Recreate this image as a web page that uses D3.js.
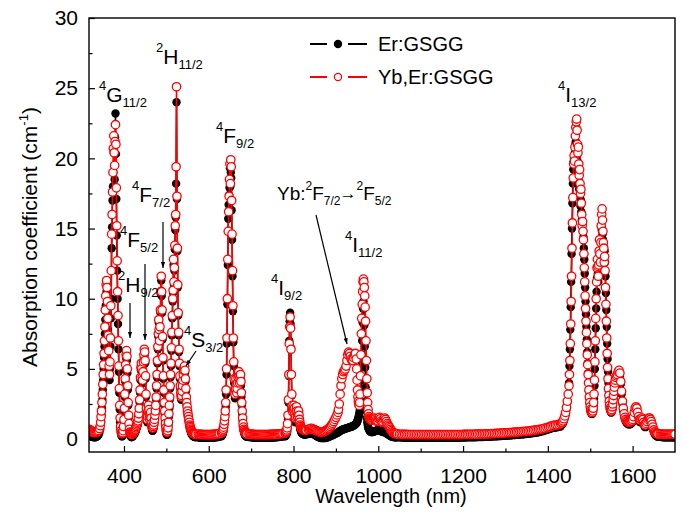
<!DOCTYPE html>
<html><head><meta charset="utf-8">
<script src="https://cdn.jsdelivr.net/npm/d3@7"></script>
<style>
body{margin:0;background:#fff}
svg{display:block}
text{font-family:"Liberation Sans",Arial,Helvetica,sans-serif;fill:#000}
</style>
</head><body>
<svg id="chart" width="683" height="515"></svg>
<script>
// ---------------- DATA (absorption coefficient, cm^-1) ----------------
// wavelength grid segments: start (nm) and step (nm)
const gridStart = [318, 345, 575, 630, 695, 780, 835, 906, 949, 987, 1050, 1432, 1451, 1562, 1665];
const gridStep  = [2,   1,   2.5, 1,   2.5, 1,   2.5, 2,   1,   2,   4,    2,    1,    2,    2.5];

// Er:GSGG
const er1 = [0.3,0.25,0.2,0.18,0.15,0.14,0.13,0.13,0.15,0.18,0.22,0.3,0.45,0.7];
const er2 = [1.0,1.3,1.7,2.2,2.8,3.5,4.2,5.0,5.8,6.6,
 7.5,8.5,9.5,10.2,10.5,10.0,9.0,7.8,6.6,5.6,
 4.7,4.2,5.0,6.6,8.6,10.0,13.6,15.1,17.0,18.0,
 19.0,20.4,19.5,18.5,21.5,23.2,20.3,17.1,14.5,12.0,
 10.0,8.2,6.4,4.8,3.3,2.1,1.2,0.7,0.4,0.25,
 0.2,0.2,0.25,0.4,0.7,1.2,2.0,3.0,4.1,5.0,
 5.8,6.1,5.6,4.7,3.5,2.4,1.5,0.9,0.5,0.3,
 0.25,0.2,0.15,0.15,0.15,0.2,0.2,0.25,0.3,0.35,
 0.4,0.45,0.5,0.6,0.7,0.8,0.9,1.0,1.1,1.3,
 1.6,2.0,2.6,3.3,4.2,4.9,5.2,4.8,4.2,4.0,
 4.6,5.3,5.8,6.2,6.0,5.4,4.3,3.0,2.0,1.4,
 1.2,1.4,1.8,2.2,1.9,1.5,1.2,1.4,1.7,1.3,
 0.9,0.7,0.6,0.6,0.7,0.8,1.0,1.2,1.5,1.8,
 2.2,2.8,3.6,4.4,5.4,6.4,7.3,8.3,7.6,6.8,
 7.8,9.0,10.3,11.3,10.2,9.0,7.1,5.6,4.3,3.3,
 2.4,1.8,1.3,0.9,0.6,0.4,0.3,0.3,0.4,0.6,
 1.0,1.6,2.2,2.8,3.6,4.4,5.2,6.3,7.4,8.6,
 9.8,10.4,12.4,11.0,12.0,13.5,14.9,15.8,18.2,24.0,
 17.1,13.4,10.8,8.8,7.4,6.2,5.2,4.3,3.6,3.1,
 2.8,2.9,3.2,3.6,4.0,4.4,4.7,4.9,5.0,4.7,
 4.1,3.4,2.8,2.4,2.1,1.8,1.6,1.4,1.2,1.0,
 0.8,0.7,0.6,0.5,0.4,0.35,0.3,0.25,0.22,0.2,
 0.18,0.16,0.15,0.15,0.15,0.15];
const er3 = [0.12,0.11,0.1,0.1,0.1,0.1,0.1,0.1,0.1,0.1,0.1,0.1,0.1,0.1,0.1,0.11,0.12,0.13,0.14,0.15,0.17];
const er4 = [0.2,0.24,0.3,0.38,0.48,0.62,0.8,1.05,1.35,1.75,
 2.3,3.2,4.6,6.8,9.6,12.4,15.7,16.7,17.4,17.9,
 19.3,18.0,19.0,18.6,16.3,14.2,11.6,9.1,6.9,5.2,
 4.0,3.2,2.9,3.3,4.0,3.6,3.0,3.3,3.7,4.1,
 4.3,4.5,4.2,3.7,4.0,4.3,3.8,3.0,2.4,1.8,
 1.3,0.9,0.65,0.5,0.4,0.32,0.26,0.22,0.2,0.18,
 0.16];
const er5 = [0.15,0.14,0.13,0.12,0.11,0.1,0.1,0.1,0.1,0.1,0.1,0.1,0.1,0.1,0.1,0.1,0.1,0.1,0.1,0.1,0.1,0.1,0.11,0.11,0.12,0.12,0.13,0.14,0.15,0.16,0.17,0.18,0.19];
const er6 = [0.2,0.22,0.25,0.3,0.38,0.5,0.8,1.4,2.6,4.5,
 7.0,8.4,9.0,8.2,6.5,4.6,3.1,2.2,1.8,1.6,
 1.8,2.1,1.9,1.5,1.2,1.3,1.7,2.0,1.7,1.3,
 1.3,1.5,1.7,1.4,1.1,0.9,0.7,0.6,0.5,0.45,
 0.42,0.4,0.38,0.36,0.35,0.34,0.33,0.33,0.33,0.34,
 0.35];
const er7 = [0.36,0.38,0.4,0.4,0.38,0.34,0.3,0.25,0.2,0.16,0.12,0.1,0.08,0.07,0.07,0.07,0.08,0.1,0.12,0.15,0.18,0.21,0.25,0.28,0.32,0.36,0.4,0.43,0.46];
const er8 = [0.5,0.54,0.58,0.62,0.65,0.68,0.7,0.72,0.74,0.76,0.78,0.8,0.82,0.84,0.86,0.88,0.9,0.93,0.96,1.0,1.05,1.12];
const er9 = [1.15,1.2,1.3,1.4,1.5,1.65,1.8,2.0,2.3,2.7,
 3.3,4.2,5.5,7.0,8.3,9.3,9.8,9.3,8.1,6.6,
 5.1,3.7,2.7,2.0,1.5,1.2,1.0,0.85,0.75,0.68,
 0.62,0.58,0.55,0.52,0.5,0.5,0.5];
const er10 = [0.5,0.52,0.55,0.58,0.6,0.62,0.64,0.66,0.64,0.6,0.56,0.52,0.5,0.52,0.5,0.46,0.42,0.38,0.34,0.3,0.26,0.22,0.19,0.17,0.15,0.14,0.13,0.12,0.12,0.12];
const er11 = [0.12,0.11,0.11,0.1,0.1,0.1,0.1,0.1,0.1,0.1,
 0.1,0.1,0.1,0.1,0.1,0.1,0.1,0.1,0.1,0.1,
 0.1,0.1,0.1,0.1,0.1,0.1,0.1,0.1,0.1,0.1,
 0.1,0.1,0.1,0.1,0.1,0.1,0.11,0.11,0.11,0.11,
 0.12,0.12,0.12,0.13,0.13,0.13,0.14,0.14,0.15,0.15,
 0.16,0.16,0.17,0.17,0.18,0.18,0.19,0.2,0.2,0.21,
 0.22,0.23,0.24,0.24,0.25,0.26,0.27,0.28,0.29,0.3,
 0.31,0.32,0.33,0.34,0.35,0.37,0.38,0.4,0.41,0.43,
 0.45,0.47,0.49,0.52,0.55,0.58,0.62,0.66,0.7,0.74,
 0.78,0.8,0.82,0.84,0.87,0.9];
const er12 = [1.0,1.05,1.15,1.3,1.5,1.75,2.1,2.6,3.2,4.0];
const er13 = [5.2,6.4,7.8,9.4,11.2,13.2,15.0,16.8,18.2,19.2,
 19.8,20.0,19.6,20.4,21.0,21.2,21.0,20.6,20.2,19.8,
 19.0,19.4,18.4,17.8,18.0,17.2,16.6,17.0,16.2,15.6,
 15.2,15.3,14.8,14.4,13.6,12.8,11.8,10.8,9.8,8.9,
 8.0,7.1,6.2,5.4,4.7,4.0,3.4,2.9,2.5,2.2,
 2.0,1.9,1.8,1.8,1.8,1.9,2.1,2.4,2.9,3.8,
 5.0,6.4,7.9,9.3,10.5,11.5,12.1,11.8,11.2,11.8,
 12.7,13.4,12.6,12.1,13.3,14.3,14.9,15.0,14.6,14.2,
 13.8,13.6,13.0,13.4,12.6,11.6,10.4,9.2,8.0,6.8,
 5.7,4.8,4.0,3.4,2.9,2.5,2.2,2.0,1.9,1.9,
 2.0,2.1,2.3,2.6,2.9,3.2,3.5,3.8,4.0,4.2];
const er14 = [4.3,4.4,4.6,4.7,4.5,3.9,3.2,2.5,2.0,1.6,
 1.4,1.25,1.15,1.1,1.05,1.05,1.05,1.1,1.15,1.25,
 1.45,1.75,2.0,2.1,2.0,1.75,1.45,1.25,1.2,1.25,
 1.35,1.25,1.05,0.9,0.85,0.95,1.1,1.25,1.35,1.35,
 1.25,1.1,0.9,0.7,0.5,0.36,0.28,0.22,0.19,0.17];
const er15 = [0.16,0.15,0.14,0.13,0.12,0.12,0.12,0.12,0.12,0.12,0.12,0.12,0.12,0.12,0.12];

// Yb,Er:GSGG
const yb1 = [0.7,0.65,0.6,0.55,0.5,0.48,0.46,0.46,0.48,0.5,0.55,0.62,0.75,0.95];
const yb2 = [1.2,1.6,2.0,2.6,3.2,3.9,4.6,5.3,6.1,7.0,
 8.0,9.2,10.2,11.0,11.3,10.8,9.8,8.6,7.4,6.3,
 5.2,4.6,5.5,7.2,9.5,12.0,14.6,16.0,17.6,19.0,
 20.7,21.6,20.4,19.5,21.2,22.4,21.0,17.9,15.2,12.7,
 10.5,8.8,7.0,5.2,3.6,2.4,1.5,0.9,0.6,0.45,
 0.4,0.4,0.45,0.6,0.9,1.4,2.2,3.2,4.3,5.3,
 6.0,6.3,5.9,5.0,3.8,2.6,1.7,1.1,0.7,0.5,
 0.45,0.4,0.35,0.35,0.35,0.4,0.4,0.45,0.5,0.55,
 0.6,0.65,0.7,0.8,0.9,1.0,1.1,1.2,1.3,1.5,
 1.8,2.2,2.8,3.5,4.4,5.1,5.4,5.0,4.4,4.2,
 4.8,5.5,6.0,6.4,6.2,5.6,4.5,3.2,2.2,1.6,
 1.4,1.6,2.0,2.4,2.1,1.7,1.4,1.6,1.9,1.5,
 1.1,0.9,0.8,0.8,0.9,1.0,1.2,1.4,1.7,2.0,
 2.4,3.0,3.8,4.6,5.6,6.6,7.5,8.5,7.8,7.0,
 8.0,9.2,10.5,11.6,10.5,9.2,7.3,5.8,4.5,3.5,
 2.6,2.0,1.5,1.1,0.8,0.6,0.5,0.5,0.6,0.8,
 1.2,1.8,2.4,3.0,3.8,4.6,5.4,6.5,7.6,8.8,
 10.0,10.6,12.8,11.2,12.2,13.8,15.2,16.0,19.4,25.1,
 17.3,13.6,11.0,9.0,7.6,6.4,5.4,4.5,3.8,3.3,
 3.0,3.1,3.4,3.8,4.2,4.6,4.9,5.1,5.2,4.9,
 4.3,3.6,3.0,2.6,2.3,2.0,1.8,1.6,1.4,1.2,
 1.0,0.9,0.8,0.7,0.6,0.55,0.5,0.45,0.42,0.4,
 0.38,0.36,0.35,0.35,0.34,0.34];
const yb3 = [0.34,0.34,0.33,0.33,0.32,0.32,0.32,0.32,0.32,0.32,0.32,0.32,0.32,0.32,0.33,0.33,0.34,0.35,0.36,0.37,0.39];
const yb4 = [0.42,0.46,0.52,0.6,0.7,0.85,1.05,1.3,1.6,2.0,
 2.6,3.5,5.0,7.2,10.0,12.8,14.8,16.2,17.3,18.5,
 19.6,18.2,19.9,19.4,17.0,14.6,12.0,9.5,7.2,5.5,
 4.3,3.5,3.2,3.6,4.3,3.9,3.3,3.6,4.0,4.4,
 4.6,4.8,4.5,4.0,4.3,4.6,4.1,3.3,2.6,2.0,
 1.5,1.1,0.85,0.7,0.6,0.52,0.46,0.42,0.4,0.38,
 0.36];
const yb5 = [0.35,0.35,0.34,0.34,0.33,0.33,0.32,0.32,0.32,0.32,0.32,0.32,0.32,0.32,0.32,0.32,0.32,0.32,0.32,0.32,0.33,0.33,0.33,0.33,0.34,0.34,0.35,0.35,0.36,0.37,0.38,0.39,0.4];
const yb6 = [0.42,0.45,0.5,0.56,0.65,0.8,1.1,1.7,2.8,4.6,
 6.8,8.0,8.7,7.9,6.4,4.6,3.2,2.4,2.0,1.9,
 2.1,2.4,2.2,1.8,1.5,1.6,2.0,2.3,2.0,1.6,
 1.6,1.8,2.0,1.7,1.4,1.2,1.0,0.9,0.8,0.75,
 0.72,0.7,0.68,0.66,0.65,0.64,0.63,0.63,0.63,0.64,
 0.64];
const yb7 = [0.68,0.72,0.75,0.76,0.72,0.68,0.65,0.62,0.58,0.55,0.52,0.5,0.5,0.51,0.52,0.55,0.58,0.63,0.68,0.74,0.8,0.9,1.0,1.12,1.25,1.4,1.55,1.72,1.9];
const yb8 = [2.1,2.5,3.2,3.8,4.3,4.6,4.8,4.9,5.0,5.2,5.6,6.0,6.2,6.1,5.9,5.7,5.6,5.6,5.8,6.0,6.1,5.7];
const yb9 = [5.0,4.2,3.5,3.0,2.7,2.5,2.4,2.6,3.2,4.5,
 6.0,7.5,8.6,9.6,10.5,11.2,11.4,11.2,10.8,10.2,
 9.4,8.4,7.0,5.6,4.3,3.3,2.6,2.1,1.8,1.6,
 1.5,1.45,1.4,1.4,1.35,1.35,1.35];
const yb10 = [1.4,1.45,1.5,1.45,1.35,1.25,1.3,1.45,1.55,1.45,1.3,1.2,1.25,1.4,1.5,1.4,1.25,1.1,1.0,0.9,0.8,0.7,0.6,0.52,0.46,0.42,0.4,0.38,0.37,0.36];
const yb11 = [0.34,0.34,0.33,0.33,0.33,0.32,0.32,0.32,0.32,0.32,
 0.32,0.32,0.32,0.32,0.32,0.32,0.32,0.32,0.32,0.32,
 0.32,0.32,0.32,0.32,0.32,0.32,0.32,0.32,0.32,0.32,
 0.32,0.32,0.32,0.32,0.32,0.32,0.32,0.32,0.33,0.33,
 0.33,0.33,0.34,0.34,0.34,0.35,0.35,0.35,0.36,0.36,
 0.36,0.37,0.37,0.38,0.38,0.39,0.39,0.4,0.4,0.41,
 0.42,0.43,0.44,0.44,0.45,0.46,0.47,0.48,0.49,0.5,
 0.51,0.52,0.53,0.54,0.55,0.56,0.57,0.59,0.6,0.62,
 0.64,0.66,0.68,0.7,0.72,0.75,0.78,0.82,0.86,0.9,
 0.94,0.97,1.0,1.0,1.04,1.1];
const yb12 = [1.15,1.2,1.3,1.45,1.65,1.9,2.25,2.7,3.2,3.8];
const yb13 = [4.6,5.6,6.8,8.2,9.8,11.6,13.6,15.4,17.2,18.6,
 19.6,20.2,19.8,20.8,21.6,22.2,22.6,22.8,22.0,21.0,
 20.4,20.8,19.6,18.8,19.2,18.2,17.5,17.8,16.8,16.0,
 15.2,15.5,14.8,14.2,13.2,12.2,11.2,10.2,9.3,8.4,
 7.6,6.8,6.0,5.3,4.6,4.0,3.5,3.0,2.6,2.3,
 2.1,2.0,1.9,1.9,1.9,2.0,2.2,2.6,3.2,4.2,
 5.5,7.0,8.6,10.0,11.2,12.2,12.8,12.3,11.6,12.4,
 13.4,14.2,13.2,12.6,14.0,15.2,16.0,16.4,15.6,14.8,
 14.0,13.6,12.6,13.0,12.0,10.8,9.6,8.4,7.2,6.1,
 5.1,4.3,3.6,3.1,2.7,2.4,2.2,2.1,2.0,2.0,
 2.1,2.3,2.5,2.8,3.1,3.4,3.7,4.0,4.2,4.4];
const yb14 = [4.5,4.6,4.8,4.9,4.7,4.1,3.4,2.7,2.2,1.8,
 1.55,1.4,1.3,1.25,1.2,1.2,1.2,1.25,1.3,1.4,
 1.6,1.9,2.2,2.3,2.2,1.9,1.6,1.4,1.35,1.4,
 1.5,1.4,1.2,1.05,1.0,1.1,1.25,1.4,1.5,1.5,
 1.4,1.25,1.05,0.85,0.65,0.52,0.45,0.4,0.38,0.36];
const yb15 = [0.35,0.35,0.34,0.34,0.34,0.34,0.34,0.34,0.34,0.34,0.34,0.34,0.34,0.34,0.34];

const erSegments = [er1,er2,er3,er4,er5,er6,er7,er8,er9,er10,er11,er12,er13,er14,er15];
const ybSegments = [yb1,yb2,yb3,yb4,yb5,yb6,yb7,yb8,yb9,yb10,yb11,yb12,yb13,yb14,yb15];

const seriesNames = ["Er:GSGG", "Yb,Er:GSGG"];
const xMajorTicks = [400,600,800,1000,1200,1400,1600];
const xMinorTicks = [500,700,900,1100,1300,1500];
const yMajorTicks = [0,5,10,15,20,25,30];
const yMinorTicks = [2.5,7.5,12.5,17.5,22.5,27.5];

// ---------------- BUILD ----------------
function build(segs){
  const pts = [];
  segs.forEach((vals, i) => vals.forEach((v, j) => pts.push([gridStart[i] + j*gridStep[i], v])));
  return pts;
}
const erData = build(erSegments);
const ybData = build(ybSegments);

const svg = d3.select("#chart");
const L = 89, R = 675, T = 18, B = 452;
const x = d3.scaleLinear().domain([317.5, 1700]).range([L, R]);
const y = d3.scaleLinear().domain([-0.92, 30]).range([B, T]);

const defs = svg.append("defs");
defs.append("clipPath").attr("id","plotclip").append("rect")
  .attr("x", L).attr("y", T).attr("width", R-L).attr("height", B-T);
defs.append("marker").attr("id","ah").attr("viewBox","0 0 10 10")
  .attr("refX",10).attr("refY",5).attr("markerWidth",6).attr("markerHeight",6)
  .attr("orient","auto").attr("markerUnits","userSpaceOnUse")
  .append("path").attr("d","M0,1.5 L10,5 L0,8.5 z").attr("fill","#000");

const plot = svg.append("g").attr("clip-path","url(#plotclip)");
const line = d3.line().x(d => x(d[0])).y(d => y(d[1]));
const R_MK = 4.2;

// Er:GSGG (black, filled)
plot.append("path").datum(erData).attr("d", line)
  .attr("fill","none").attr("stroke","#000").attr("stroke-width",1.5);
plot.append("g").selectAll("circle").data(erData).join("circle")
  .attr("cx", d => x(d[0])).attr("cy", d => y(d[1])).attr("r", R_MK)
  .attr("fill","#000");

// Yb,Er:GSGG (red, open)
plot.append("path").datum(ybData).attr("d", line)
  .attr("fill","none").attr("stroke","#ff0000").attr("stroke-width",1.6);
plot.append("g").selectAll("circle").data(ybData).join("circle")
  .attr("cx", d => x(d[0])).attr("cy", d => y(d[1])).attr("r", R_MK)
  .attr("fill","#fff").attr("stroke","#ff0000").attr("stroke-width",1.3);

// ---------------- AXES ----------------
const FS = 21;
svg.append("g").attr("transform",`translate(0,${B})`)
  .call(d3.axisBottom(x).tickValues(xMajorTicks).tickSize(-6).tickPadding(16).tickFormat(d3.format("d")));
svg.append("g").attr("transform",`translate(0,${B})`)
  .call(d3.axisBottom(x).tickValues(xMinorTicks).tickSize(-3.5).tickFormat(""));
svg.append("g").attr("transform",`translate(${L},0)`)
  .call(d3.axisLeft(y).tickValues(yMajorTicks).tickSize(-6).tickPadding(11).tickFormat(d3.format("d")));
svg.append("g").attr("transform",`translate(${L},0)`)
  .call(d3.axisLeft(y).tickValues(yMinorTicks).tickSize(-3.5).tickFormat(""));
svg.selectAll(".domain").remove();
svg.selectAll(".tick line").attr("stroke","#000").attr("stroke-width",1.2);
svg.selectAll(".tick text").attr("font-size",FS).attr("font-family",'"Liberation Sans",Arial,sans-serif').attr("fill","#000");

svg.append("rect").attr("x",L).attr("y",T).attr("width",R-L).attr("height",B-T)
  .attr("fill","none").attr("stroke","#000").attr("stroke-width",1.4);

// axis titles
svg.append("text").attr("x",391).attr("y",503).attr("text-anchor","middle")
  .attr("font-size",20).text("Wavelength (nm)");
const yt = svg.append("text").attr("transform","translate(37,237) rotate(-90)")
  .attr("text-anchor","middle").attr("font-size",21);
yt.append("tspan").text("Absorption coefficient (cm");
yt.append("tspan").attr("font-size",13).attr("dy",-9).text("-1");
yt.append("tspan").attr("dy",9).text(")");

// ---------------- LEGEND ----------------
const lg = svg.append("g");
[[44, "#000", "#000", seriesNames[0], 51], [77, "#ff0000", "#fff", seriesNames[1], 84]].forEach(([ly, col, fill, name, tb]) => {
  lg.append("line").attr("x1",310).attr("x2",327).attr("y1",ly).attr("y2",ly).attr("stroke",col).attr("stroke-width",2);
  lg.append("line").attr("x1",348).attr("x2",367).attr("y1",ly).attr("y2",ly).attr("stroke",col).attr("stroke-width",2);
  lg.append("circle").attr("cx",338).attr("cy",ly).attr("r",3.6).attr("fill",fill).attr("stroke",col).attr("stroke-width",1.2);
  lg.append("text").attr("x",378).attr("y",tb).attr("font-size",20).text(name);
});

// ---------------- ANNOTATIONS ----------------
function label(x0, y0, parts, big, small){
  const t = svg.append("text").attr("x",x0).attr("y",y0).attr("font-size",big);
  let cur = 0;
  const shift = {sup: -Math.round(big*0.55), main: 0, sub: Math.round(big*0.26), arrow: -1};
  parts.forEach(([kind, str]) => {
    const target = shift[kind];
    const ts = t.append("tspan").attr("dy", target - cur).text(str);
    if (kind === "sup" || kind === "sub") ts.attr("font-size", small);
    if (kind === "arrow") ts.attr("font-size", 17).attr("dx", -1);
    cur = target;
  });
  return t;
}
const B1 = 21, S1 = 13;
label(99, 102, [["sup","4"],["main","G"],["sub","11/2"]], B1, S1);
label(156, 64, [["sup","2"],["main","H"],["sub","11/2"]], B1, S1);
label(216, 143, [["sup","4"],["main","F"],["sub","9/2"]], B1, S1);
label(132, 202, [["sup","4"],["main","F"],["sub","7/2"]], B1, S1);
label(120, 247, [["sup","4"],["main","F"],["sub","5/2"]], B1, S1);
label(118, 292, [["sup","2"],["main","H"],["sub","9/2"]], B1, S1);
label(184, 347, [["sup","4"],["main","S"],["sub","3/2"]], B1, S1);
label(271, 295, [["sup","4"],["main","I"],["sub","9/2"]], B1, S1);
label(345, 252, [["sup","4"],["main","I"],["sub","11/2"]], B1, S1);
label(558, 102, [["sup","4"],["main","I"],["sub","13/2"]], B1, S1);
label(277, 200, [["main","Yb:"],["sup","2"],["main","F"],["sub","7/2"],["arrow","\u2192"],["sup","2"],["main","F"],["sub","5/2"]], 19, 12);

function arrow(x1,y1,x2,y2){
  svg.append("line").attr("x1",x1).attr("y1",y1).attr("x2",x2).attr("y2",y2)
    .attr("stroke","#000").attr("stroke-width",1.2).attr("marker-end","url(#ah)");
}
arrow(163, 222, 163, 268);
arrow(145, 264, 145, 340);
arrow(130, 303, 130, 338);
arrow(196, 351, 186, 366);
arrow(316, 215, 347, 344);
</script>
</body></html>
